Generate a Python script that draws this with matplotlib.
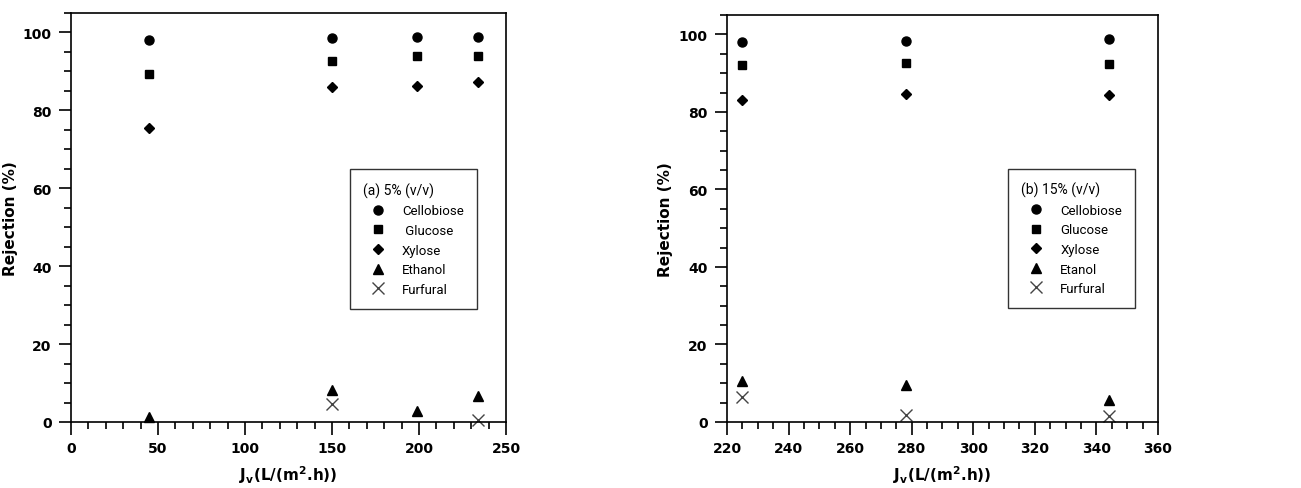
import numpy as np
import matplotlib
matplotlib.use("Agg")
from matplotlib import pyplot as plt
from matplotlib.ticker import MultipleLocator

# panel (a) 5% (v/v)
flux_a = [45, 150, 199, 234]
cellobiose_a = [98.0, 98.5, 98.8, 98.8]
glucose_a = [89.3, 92.8, 94.0, 94.0]
xylose_a = [75.5, 86.0, 86.3, 87.3]
ethanol_a = [1.2, 8.2, 2.8, 6.8]
furfural_a = [np.nan, 4.5, np.nan, 0.5]

# panel (b) 15% (v/v)
flux_b = [225, 278, 344]
cellobiose_b = [98.0, 98.4, 98.8]
glucose_b = [92.0, 92.7, 92.3]
xylose_b = [83.0, 84.6, 84.3]
ethanol_b = [10.5, 9.5, 5.8]
furfural_b = [6.5, 1.8, 1.5]

labels_a = ['Cellobiose', ' Glucose', 'Xylose', 'Ethanol', 'Furfural']
labels_b = ['Cellobiose', 'Glucose', 'Xylose', 'Etanol', 'Furfural']

plt.rcParams['font.family'] = 'DejaVu Sans'
leg_family = ['Roboto', 'DejaVu Sans']
leg_size = 9.5

fig = plt.figure(figsize=(13.01, 4.89), dpi=100)
ax_a = fig.add_axes([71 / 1301, 66 / 489, 435 / 1301, 409 / 489])
ax_b = fig.add_axes([727 / 1301, 66 / 489, 431 / 1301, 407 / 489])


def draw_panel(ax, x, series, labels, title, xlim, xmajor, xminor, legpos, ylab_x):
    styles = [
        dict(marker='o', ms=6.5, color='black', ls='none'),
        dict(marker='s', ms=6, color='black', ls='none'),
        dict(marker='D', ms=5, color='black', ls='none'),
        dict(marker='^', ms=7, color='black', ls='none'),
        dict(marker='x', ms=9, color='#444444', mew=1.0, ls='none'),
    ]
    for ys, lab, st in zip(series, labels, styles):
        ax.plot(x, ys, label=lab, clip_on=False, **st)
    ax.set_xlim(*xlim)
    ax.set_ylim(0, 105)
    ax.xaxis.set_major_locator(MultipleLocator(xmajor))
    ax.xaxis.set_minor_locator(MultipleLocator(xminor))
    ax.yaxis.set_major_locator(MultipleLocator(20))
    ax.yaxis.set_minor_locator(MultipleLocator(5))
    ax.tick_params(which='both', direction='out', top=False, right=False,
                   width=1.2, labelsize=10)
    ax.tick_params(which='major', length=9, pad=5)
    ax.tick_params(which='minor', length=5)
    for lab in ax.get_xticklabels() + ax.get_yticklabels():
        lab.set_fontweight('bold')
    for s in ax.spines.values():
        s.set_linewidth(1.2)
    ax.set_xlabel('J$_\\mathbf{v}$(L/(m$^\\mathbf{2}$.h))', fontsize=11,
                  fontweight='bold', labelpad=6)
    ax.set_ylabel('Rejection (%)', fontsize=11, fontweight='bold')
    ax.yaxis.set_label_coords(ylab_x, 0.5)
    leg = ax.legend(title=title, loc='center left', bbox_to_anchor=legpos,
                    borderaxespad=0, frameon=True, fancybox=False,
                    edgecolor='black', prop=dict(family=leg_family, size=leg_size),
                    handlelength=2.2, handletextpad=0.75,
                    borderpad=1.0, labelspacing=0.5)
    leg.get_title().set_fontfamily(leg_family)
    leg.get_title().set_fontsize(leg_size + 0.5)
    leg.get_frame().set_linewidth(1.0)
    leg._legend_box.align = 'left'


draw_panel(ax_a, flux_a,
           [cellobiose_a, glucose_a, xylose_a, ethanol_a, furfural_a],
           labels_a, '(a) 5% (v/v)', (0, 250), 50, 10, (0.641, 0.447), -0.122)
draw_panel(ax_b, flux_b,
           [cellobiose_b, glucose_b, xylose_b, ethanol_b, furfural_b],
           labels_b, '(b) 15% (v/v)', (220, 360), 20, 5, (0.652, 0.451), -0.125)

fig.savefig('out.png', dpi=100)
